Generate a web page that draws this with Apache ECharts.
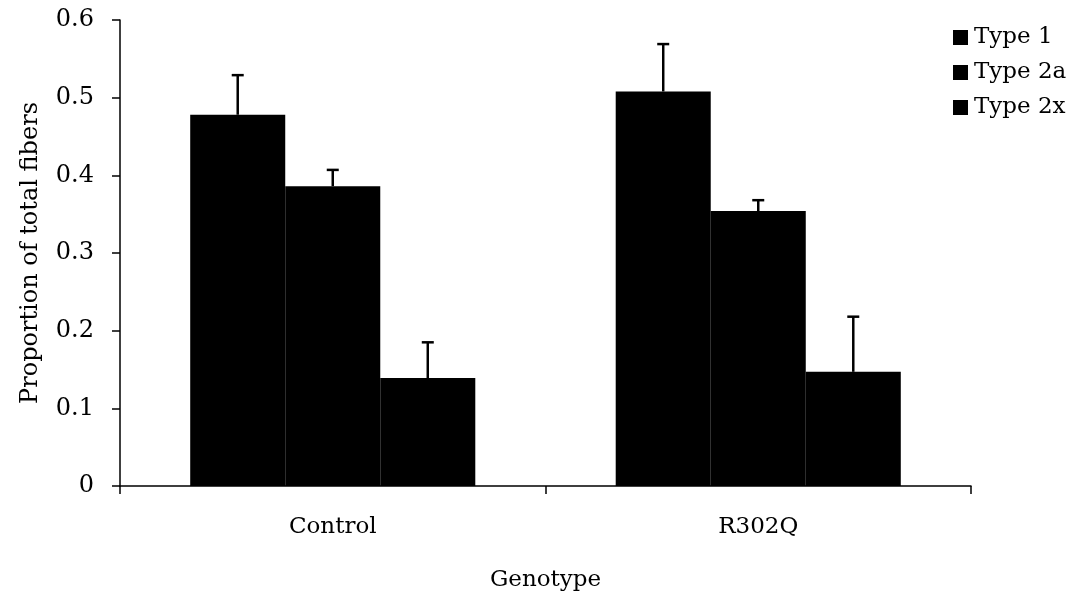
<!DOCTYPE html>
<html>
<head>
<meta charset="utf-8">
<script src="https://cdn.jsdelivr.net/npm/echarts@6/dist/echarts.min.js"></script>
<style>html,body{margin:0;padding:0;background:#fff}#c{width:1085px;height:603px}</style>
</head>
<body>
<div id="c"></div>
<script>
const categories = ['Control', 'R302Q'];
const seriesNames = ['Type 1', 'Type 2a', 'Type 2x'];
const type1 = [0.478, 0.508];
const type2a = [0.386, 0.354];
const type2x = [0.139, 0.147];
const err1 = [0.051, 0.061];
const err2a = [0.021, 0.014];
const err2x = [0.046, 0.071];
const yTicks = [0, 0.1, 0.2, 0.3, 0.4, 0.5, 0.6];

const values = [type1, type2a, type2x];
const errors = [err1, err2a, err2x];
const FONT = 'DejaVu Serif';
const catGap = 0.33;

const chart = echarts.init(document.getElementById('c'), null, {renderer: 'canvas'});

const barSeries = seriesNames.map((name, i) => ({
  name: name,
  type: 'bar',
  data: values[i],
  barGap: '0%',
  barCategoryGap: '33%',
  itemStyle: {color: '#000'}
}));

const errSeries = seriesNames.map((name, i) => ({
  name: name + ' err',
  type: 'custom',
  data: values[i].map((v, k) => [k, v, v + errors[i][k]]),
  encode: {x: 0, y: [1, 2]},
  z: 5,
  renderItem: function (params, api) {
    const band = api.size([1, 0])[0];
    const bw = band * (1 - catGap) / 3;
    const off = (i - 1) * bw;
    const base = api.coord([api.value(0), api.value(1)]);
    const top = api.coord([api.value(0), api.value(2)]);
    const x = base[0] + off;
    const style = {stroke: '#000', lineWidth: 2.5};
    return {
      type: 'group',
      children: [
        {type: 'line', shape: {x1: x, y1: base[1], x2: x, y2: top[1]}, style: style},
        {type: 'line', shape: {x1: x - 6, y1: top[1], x2: x + 6, y2: top[1]}, style: style}
      ]
    };
  }
}));

chart.setOption({
  animation: false,
  backgroundColor: '#fff',
  grid: {left: 120, right: 114, top: 20, bottom: 117, containLabel: false},
  legend: {
    data: seriesNames,
    orient: 'vertical',
    left: 948,
    top: 21,
    itemWidth: 15,
    itemHeight: 15,
    itemGap: 12,
    icon: 'rect',
    textStyle: {fontFamily: FONT, fontSize: 23, color: '#000', padding: [0, 0, 0, 1]}
  },
  xAxis: {
    type: 'category',
    data: categories,
    name: 'Genotype',
    nameLocation: 'middle',
    nameGap: 83,
    nameTextStyle: {fontFamily: FONT, fontSize: 23, color: '#000'},
    axisLine: {lineStyle: {color: '#000', width: 1.5}},
    axisTick: {show: true, length: 8, lineStyle: {color: '#000', width: 1.5}},
    axisLabel: {fontFamily: FONT, fontSize: 23, color: '#000', margin: 30}
  },
  yAxis: {
    type: 'value',
    min: 0,
    max: 0.6,
    interval: 0.1,
    name: 'Proportion of total fibers',
    nameLocation: 'middle',
    nameGap: 77,
    nameTextStyle: {fontFamily: FONT, fontSize: 24, color: '#000'},
    axisLine: {show: true, lineStyle: {color: '#000', width: 1.5}},
    axisTick: {show: true, length: 8, lineStyle: {color: '#000', width: 1.5}},
    splitLine: {show: false},
    axisLabel: {
      fontFamily: FONT, fontSize: 24, color: '#000', margin: 26,
      formatter: function (v) {
        const t = yTicks.find(y => Math.abs(y - v) < 1e-9);
        return t === 0 ? '0' : String(t !== undefined ? t : v);
      }
    }
  },
  series: barSeries.concat(errSeries)
});
</script>
</body>
</html>
